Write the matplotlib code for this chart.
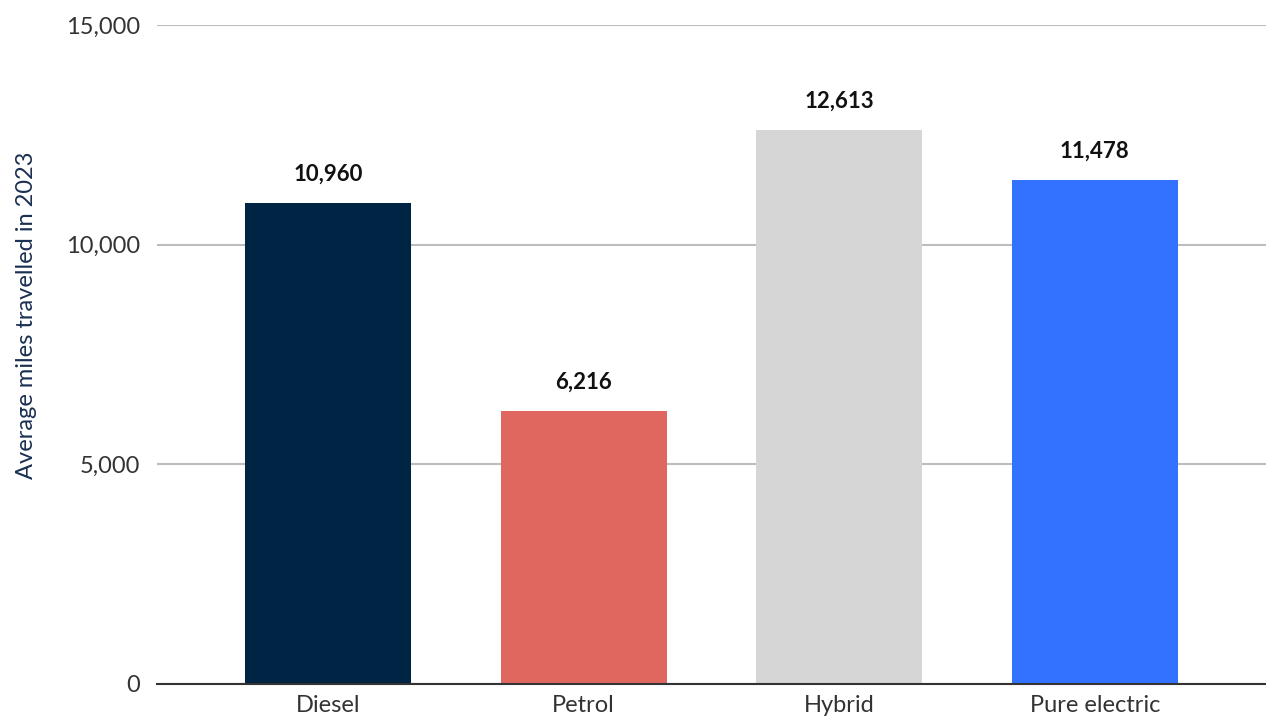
import matplotlib.pyplot as plt
from matplotlib.ticker import FuncFormatter

categories = ['Diesel', 'Petrol', 'Hybrid', 'Pure electric']
miles = [10960, 6216, 12613, 11478]
colors = ['#002444', '#e06760', '#d6d6d6', '#3372ff']

plt.rcParams['font.family'] = ['Lato', 'DejaVu Sans']

fig = plt.figure(figsize=(12.66, 7.2), dpi=100)
ax = fig.add_axes([0.124, 0.05, 0.876, 0.915])

x = range(len(categories))
bars = ax.bar(x, miles, width=0.65, color=colors, zorder=3)

for b, v in zip(bars, miles):
    ax.annotate(f'{v:,}', (b.get_x() + b.get_width() / 2, v),
                xytext=(0, 13), textcoords='offset points',
                ha='center', va='bottom', fontsize=16, fontweight='bold', color='#111111')

ax.set_xlim(-0.67, 3.67)
ax.set_ylim(0, 15000)
ax.set_yticks([0, 5000, 10000, 15000])
ax.yaxis.set_major_formatter(FuncFormatter(lambda v, p: f'{int(v):,}'))
ax.set_xticks(list(x))
ax.set_xticklabels(categories)

ax.grid(axis='y', color='#bdbdbd', linewidth=1.5, zorder=0)
for s in ['top', 'right', 'left']:
    ax.spines[s].set_visible(False)
ax.spines['bottom'].set_color('#333333')
ax.spines['bottom'].set_linewidth(1.5)
ax.spines['bottom'].set_zorder(4)
ax.tick_params(axis='both', length=0, labelsize=17, labelcolor='#333333')
ax.tick_params(axis='y', pad=12)
ax.tick_params(axis='x', pad=8)

ax.set_ylabel('Average miles travelled in 2023', fontsize=17, color='#1b2f52')
ax.yaxis.set_label_coords(-0.108, 0.56)

fig.savefig('out.png', dpi=100)
